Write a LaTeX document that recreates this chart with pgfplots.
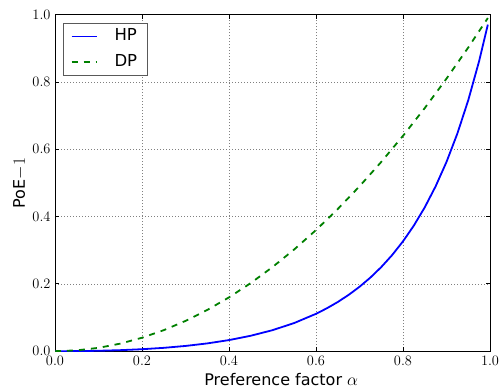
\documentclass[border=0pt]{standalone}
\usepackage{fontspec}
\usepackage{pgfplots}
\pgfplotsset{compat=1.18}
\usetikzlibrary{calc}
\newfontfamily\dejavu{DejaVu Sans}
\definecolor{mplblue}{rgb}{0,0,1}
\definecolor{mplgreen}{rgb}{0,0.5,0}
\begin{document}
\begin{tikzpicture}
\begin{axis}[
  name=ax,
  scale only axis,
  width=435pt, height=336.5pt,
  xmin=0, xmax=1, ymin=0, ymax=1,
  xtick={0,0.2,0.4,0.6,0.8,1.0},
  ytick={0,0.2,0.4,0.6,0.8,1.0},
  tick align=inside,
  xtick pos=both, ytick pos=both,
  major tick length=4pt,
  every tick/.style={black, line width=0.9pt},
  axis line style={line width=1pt, black},
  grid=major,
  major grid style={black!50, line width=0.5pt, dash pattern=on 1pt off 2pt},
  tick label style={font=\fontsize{15}{18}\selectfont},
  xticklabel style={/pgf/number format/fixed, /pgf/number format/fixed zerofill, /pgf/number format/precision=1, yshift=-1pt},
  yticklabel style={/pgf/number format/fixed, /pgf/number format/fixed zerofill, /pgf/number format/precision=1, xshift=-1pt},
  scaled ticks=false,
  xlabel={Preference factor $\alpha$},
  ylabel={PoE$-1$},
  label style={font=\dejavu\fontsize{16}{19}\selectfont},
  xlabel style={at={(axis description cs:0.52,-0.101)}, anchor=base},
  ylabel style={at={(axis description cs:-0.069,0.5)}, anchor=base, rotate=0},
  legend image code/.code={\draw[#1] (0pt,0pt) -- (25pt,0pt);},
  legend cell align=left,
  legend style={
    at={(axis description cs:0.019,0.976)}, anchor=north west,
    draw=black!65, line width=0.9pt, fill=white,
    inner xsep=7pt, inner ysep=3pt, row sep=5pt,
    nodes={inner sep=3pt, text height=11.5pt, text depth=3pt, font=\dejavu\fontsize{16.5}{19}\selectfont},
    /tikz/every odd column/.append style={column sep=14pt},
  },
]
\addplot[mplblue, line width=1.8pt] coordinates {
(0,0) (0.05,0.000297) (0.1,0.001276) (0.15,0.003086) (0.2,0.005917)
(0.25,0.01) (0.3,0.015625) (0.35,0.023157) (0.4,0.033058) (0.45,0.045918)
(0.5,0.0625) (0.55,0.083795) (0.6,0.111111) (0.625,0.127551) (0.65,0.146194)
(0.675,0.167355) (0.7,0.191406) (0.725,0.218782) (0.75,0.25) (0.775,0.285672)
(0.8,0.326531) (0.825,0.373457) (0.85,0.427515) (0.875,0.49) (0.9,0.5625)
(0.925,0.646975) (0.95,0.745868) (0.975,0.862245) (0.995,0.970519)
};
\addlegendentry{HP}
\addplot[mplgreen, line width=1.8pt, dash pattern=on 6pt off 6pt] coordinates {
(0,0) (0.05,0.0025) (0.1,0.01) (0.15,0.0225) (0.2,0.04) (0.25,0.0625)
(0.3,0.09) (0.35,0.1225) (0.4,0.16) (0.45,0.2025) (0.5,0.25) (0.55,0.3025)
(0.6,0.36) (0.65,0.4225) (0.7,0.49) (0.75,0.5625) (0.8,0.64) (0.85,0.7225)
(0.9,0.81) (0.95,0.9025) (0.995,0.990025)
};
\addlegendentry{DP}
\end{axis}
\pgfresetboundingbox
\path[use as bounding box] ($(ax.south west)+(-55pt,-37pt)$) rectangle ($(ax.north east)+(9pt,14.7pt)$);
\end{tikzpicture}
\end{document}
